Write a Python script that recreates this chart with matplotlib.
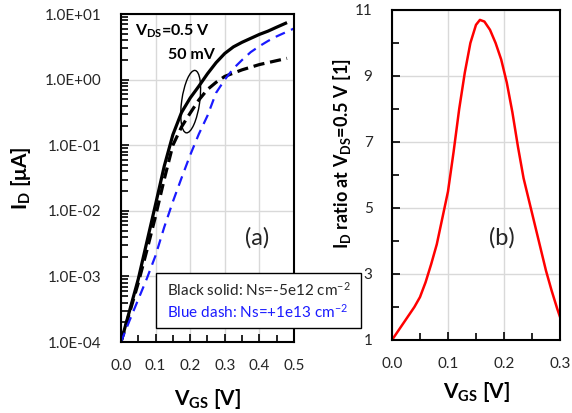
import numpy as np
import matplotlib
matplotlib.use('Agg')
import matplotlib.pyplot as plt
import matplotlib.transforms as transforms
from matplotlib.patches import Ellipse, Rectangle
from matplotlib.ticker import FuncFormatter, MultipleLocator, LogLocator

# -------- DATA --------
# (a) Id-Vgs, log10(Id [uA])
vgs_solid = [0, 0.025, 0.05, 0.075, 0.1, 0.125, 0.15, 0.175, 0.2, 0.225, 0.25, 0.275,
             0.3, 0.325, 0.35, 0.375, 0.4, 0.425, 0.45, 0.48]
logid_solid = [-4, -3.52, -3.04, -2.47, -1.9, -1.32, -0.84, -0.5, -0.28, -0.1, 0.09, 0.26,
               0.4, 0.5, 0.57, 0.63, 0.69, 0.74, 0.8, 0.87]

vgs_dash50 = [0, 0.025, 0.05, 0.075, 0.1, 0.125, 0.15, 0.175, 0.2, 0.225, 0.25, 0.275,
              0.3, 0.35, 0.4, 0.45, 0.48]
logid_dash50 = [-4, -3.55, -3.1, -2.6, -2.08, -1.52, -1.0, -0.72, -0.51, -0.31, -0.15, -0.04,
                0.05, 0.15, 0.23, 0.29, 0.325]

vgs_blue = [0, 0.025, 0.05, 0.075, 0.1, 0.125, 0.15, 0.175, 0.2, 0.225, 0.25, 0.275,
            0.3, 0.325, 0.35, 0.375, 0.4, 0.425, 0.45, 0.475, 0.5]
logid_blue = [-4, -3.67, -3.35, -3.03, -2.68, -2.25, -1.86, -1.5, -1.15, -0.83, -0.55, -0.2,
              0.0, 0.17, 0.3, 0.42, 0.51, 0.59, 0.66, 0.72, 0.78]

# (b) Id ratio at Vds=0.5 V
vgs_ratio = [0, 0.01, 0.02, 0.03, 0.04, 0.05, 0.06, 0.07, 0.08, 0.09, 0.1, 0.11, 0.12, 0.13,
             0.14, 0.15, 0.157, 0.165, 0.175, 0.185, 0.195, 0.205, 0.215, 0.225, 0.235,
             0.245, 0.255, 0.265, 0.275, 0.285, 0.295, 0.3]
ratio = [1.0, 1.25, 1.5, 1.75, 2.0, 2.3, 2.75, 3.3, 3.9, 4.7, 5.5, 6.7, 8.0, 9.1,
         10.0, 10.55, 10.7, 10.65, 10.4, 10.0, 9.5, 8.8, 7.9, 6.85, 5.9,
         5.2, 4.5, 3.8, 3.1, 2.5, 1.95, 1.7]

xticks_a = [0.0, 0.1, 0.2, 0.3, 0.4, 0.5]
yticks_a = [1e-4, 1e-3, 1e-2, 1e-1, 1e0, 1e1]
xticks_b = [0.0, 0.1, 0.2, 0.3]
yticks_b = [1, 3, 5, 7, 9, 11]
# -------- DATA. --------

plt.rcParams['font.family'] = ['Lato', 'DejaVu Sans']
plt.rcParams['mathtext.default'] = 'regular'

fig = plt.figure(figsize=(5.72, 4.13), dpi=100)
ax1 = fig.add_axes([0.2115, 0.1719, 0.3024, 0.794])
ax2 = fig.add_axes([0.6853, 0.1768, 0.2937, 0.799])

gridcol = '#d9d9d9'
tickcol = '#262626'


def style_axes(ax):
    for sp in ax.spines.values():
        sp.set_linewidth(1.5)
        sp.set_color('black')
    ax.set_axisbelow(True)
    ax.grid(True, which='major', color=gridcol, linewidth=1)
    ax.tick_params(which='both', direction='in', width=1.2, colors='black',
                   labelcolor=tickcol, labelsize=11)
    ax.tick_params(which='major', length=6)
    ax.tick_params(which='minor', length=5)


# -------- PANEL (a) --------
ax1.semilogy(vgs_solid, 10 ** np.array(logid_solid), color='black', lw=2.3, solid_capstyle='butt')
ax1.semilogy(vgs_dash50, 10 ** np.array(logid_dash50), color='black', lw=2.3, dashes=(3.5, 1.8))
ax1.semilogy(vgs_blue, 10 ** np.array(logid_blue), color='#1a1aff', lw=1.6, dashes=(4.5, 3))

ax1.set_xlim(0, 0.5)
ax1.set_ylim(1e-4, 1e1)
ax1.set_xticks(xticks_a)
ax1.set_xticklabels(['%.1f' % v for v in xticks_a])
ax1.xaxis.set_minor_locator(MultipleLocator(0.05))
ax1.set_yticks(yticks_a)
ax1.yaxis.set_major_formatter(FuncFormatter(lambda v, p: '%.1E' % v))
ax1.yaxis.set_minor_locator(LogLocator(base=10, subs=np.arange(2, 10)))
ax1.yaxis.set_minor_formatter(FuncFormatter(lambda v, p: ''))
style_axes(ax1)
ax1.tick_params(axis='y', pad=14)
ax1.tick_params(axis='x', pad=12)

ax1.set_xlabel('V$_{GS}$ [V]', fontsize=15, fontweight='bold')
ax1.xaxis.set_label_coords(0.5, -0.137)
ax1.set_ylabel('I$_D$ [μA]', fontsize=15, fontweight='bold')
ax1.yaxis.set_label_coords(-0.51, 0.5)

ax1.text(0.04, 10 ** 0.73, 'V$_{DS}$=0.5 V', fontsize=11.5, fontweight='bold', va='center')
ax1.text(0.136, 10 ** 0.375, '50 mV', fontsize=11.5, fontweight='bold', va='center')
ax1.text(0.393, 10 ** -2.41, '(a)', fontsize=17, ha='center', va='center', color='#262626')

# ellipse around the 50 mV curves
trans = fig.dpi_scale_trans + transforms.ScaledTranslation(0.403, 0.733, ax1.transAxes)
ax1.add_patch(Ellipse((0, 0), width=0.18, height=0.63, angle=-8, transform=trans,
                      fill=False, edgecolor='black', lw=1))

# ---- legend-like box spanning both panels
fig.add_artist(Rectangle((0.2727, 0.2065), 0.3579, 0.1325, transform=fig.transFigure,
                         facecolor='white', edgecolor='black', lw=1, zorder=5))
fig.text(0.292, 0.298, 'Black solid: Ns=-5e12 cm$^{-2}$', fontsize=11, color='#262626',
         va='center', zorder=6)
fig.text(0.292, 0.246, 'Blue dash: Ns=+1e13 cm$^{-2}$', fontsize=11, color='#1a1aff',
         va='center', zorder=6)
# -------- PANEL (a). --------

# -------- PANEL (b) --------
ax2.plot(vgs_ratio, ratio, color='#ff0000', lw=1.8)
ax2.set_xlim(0, 0.3)
ax2.set_ylim(1, 11)
ax2.set_xticks(xticks_b)
ax2.set_xticklabels(['%.1f' % v for v in xticks_b])
ax2.xaxis.set_minor_locator(MultipleLocator(0.05))
ax2.set_yticks(yticks_b)
ax2.yaxis.set_minor_locator(MultipleLocator(1))
style_axes(ax2)
ax2.tick_params(axis='y', pad=14)
ax2.tick_params(axis='x', pad=12)

ax2.set_xlabel('V$_{GS}$ [V]', fontsize=15, fontweight='bold')
ax2.xaxis.set_label_coords(0.5, -0.122)
ax2.set_ylabel('I$_D$ ratio at V$_{DS}$=0.5 V [1]', fontsize=13, fontweight='bold')
ax2.yaxis.set_label_coords(-0.232, 0.565)

ax2.text(0.196, 4.09, '(b)', fontsize=17, ha='center', va='center', color='#262626')
# -------- PANEL (b). --------

plt.savefig('out.png', dpi=100)
plt.close()
